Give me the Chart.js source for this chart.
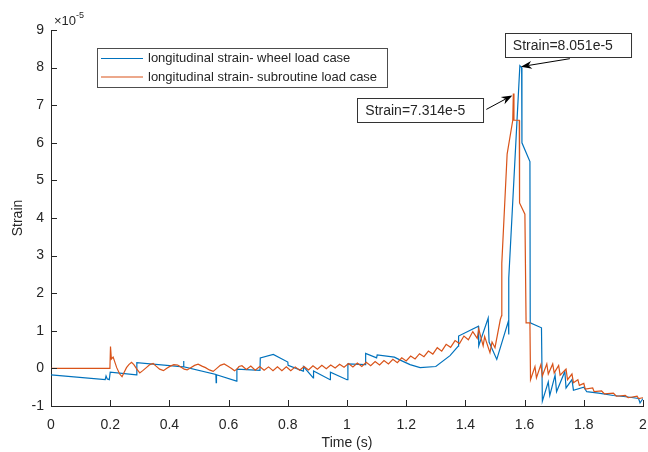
<!DOCTYPE html>
<html>
<head>
<meta charset="utf-8">
<script src="https://cdn.jsdelivr.net/npm/chart.js@4.4.1/dist/chart.umd.min.js"></script>
<style>
  html, body { margin: 0; padding: 0; background: #fff; }
  #wrap { width: 648px; height: 452px; }
</style>
</head>
<body>
<div id="wrap"><canvas id="strainChart" width="648" height="452"></canvas></div>
<script>
// strain values are given in units of 1e-5 (axis exponent)
const seriesNames = ['longitudinal strain- wheel load case', 'longitudinal strain- subroutine load case'];

const wheelTime = [0, 0.183, 0.186, 0.19, 0.197, 0.2, 0.289, 0.29, 0.447, 0.448, 0.449, 0.557, 0.558, 0.559,
  0.627, 0.628, 0.706, 0.707, 0.751, 0.80, 0.801, 0.852, 0.853, 0.886, 0.887, 0.943, 0.944, 1.0, 1.003,
  1.062, 1.063, 1.10, 1.102, 1.16, 1.18, 1.213, 1.247, 1.30, 1.348, 1.376, 1.377, 1.444, 1.445, 1.477,
  1.48, 1.506, 1.545, 1.546, 1.547, 1.584, 1.59, 1.591, 1.618, 1.619, 1.657, 1.66, 1.68, 1.685, 1.703,
  1.708, 1.736, 1.74, 1.76, 1.765, 1.80, 1.81, 1.85, 1.90, 1.95, 1.985, 1.99, 2.0];
const wheelStrain = [-0.17, -0.30, -0.20, -0.28, -0.30, -0.10, -0.17, 0.15, 0.04, 0.20, 0.04, -0.16, -0.38, -0.17,
  -0.34, -0.02, -0.05, 0.28, 0.37, 0.17, 0.08, -0.07, 0.05, -0.25, -0.07, -0.30, -0.10, -0.30, 0.12,
  0.10, 0.40, 0.28, 0.36, 0.30, 0.22, 0.10, 0.02, 0.05, 0.34, 0.59, 0.86, 1.12, 0.60, 1.34,
  0.70, 0.24, 1.25, 0.90, 2.40, 8.051, 8.0, 6.0, 5.5, 1.21, 1.08, -0.87, -0.36, -0.72, -0.18,
  -0.62, -0.08, -0.52, -0.30, -0.58, -0.50, -0.62, -0.66, -0.72, -0.76, -0.80, -0.92, -0.80];

const subTime = [0, 0.199, 0.201, 0.204, 0.21, 0.222, 0.232, 0.24, 0.246, 0.255, 0.263, 0.272, 0.28, 0.29,
  0.30, 0.31, 0.322, 0.334, 0.345, 0.355, 0.367, 0.38, 0.39, 0.403, 0.415, 0.428, 0.44, 0.45, 0.46,
  0.472, 0.485, 0.497, 0.51, 0.522, 0.535, 0.548, 0.56, 0.572, 0.585, 0.598, 0.61, 0.62, 0.628, 0.635,
  0.645, 0.66, 0.675, 0.69, 0.705, 0.72, 0.735, 0.75, 0.765, 0.78, 0.795, 0.81, 0.825, 0.84, 0.855,
  0.87, 0.885, 0.90, 0.915, 0.93, 0.945, 0.96, 0.975, 0.99, 1.005, 1.02, 1.035, 1.05, 1.065, 1.08,
  1.095, 1.11, 1.125, 1.14, 1.155, 1.17, 1.185, 1.20, 1.215, 1.23, 1.245, 1.26, 1.275, 1.29, 1.305,
  1.32, 1.335, 1.35, 1.365, 1.38, 1.395, 1.41, 1.425, 1.44, 1.445, 1.46, 1.465, 1.483, 1.49, 1.50,
  1.518, 1.522, 1.523, 1.541, 1.56, 1.562, 1.564, 1.582, 1.583, 1.601, 1.605, 1.618, 1.62, 1.635,
  1.64, 1.655, 1.66, 1.675, 1.68, 1.695, 1.70, 1.715, 1.72, 1.74, 1.745, 1.76, 1.765, 1.78, 1.785,
  1.80, 1.805, 1.83, 1.835, 1.86, 1.87, 1.90, 1.91, 1.94, 1.95, 1.98, 1.985, 2.0];
const subStrain = [0, 0, 0.58, 0.25, 0.30, 0.02, -0.15, -0.22, -0.12, 0.02, 0.10, 0.16, 0.10, -0.02,
  -0.12, -0.06, 0.02, 0.10, 0.13, 0.06, -0.02, -0.06, 0.0, 0.06, 0.10, 0.09, 0.03, -0.02, -0.04,
  0.02, 0.08, 0.11, 0.06, 0.02, -0.04, -0.08, 0.0, 0.08, 0.12, 0.06, 0.0, -0.06, -0.02, 0.05,
  0.07, -0.03, 0.06, -0.05, 0.05, -0.05, 0.04, -0.06, 0.04, -0.06, 0.04, -0.06, 0.04, -0.05, 0.05,
  -0.04, 0.07, -0.02, 0.08, -0.01, 0.09, 0.01, 0.11, 0.03, 0.13, 0.04, 0.14, 0.05, 0.16, 0.07,
  0.18, 0.09, 0.21, 0.12, 0.24, 0.15, 0.28, 0.20, 0.33, 0.25, 0.39, 0.31, 0.46, 0.38, 0.55,
  0.46, 0.64, 0.56, 0.74, 0.66, 0.86, 0.76, 0.98, 0.80, 1.05, 0.60, 0.85, 0.42, 0.70, 0.55,
  1.30, 1.40, 2.80, 5.70, 6.60, 7.314, 6.60, 6.60, 4.40, 4.10, 1.21, 1.21, -0.30, 0.05,
  -0.25, 0.10, -0.20, 0.12, -0.15, 0.12, -0.12, 0.08, -0.18, -0.02, -0.30, -0.15, -0.38, -0.30, -0.45,
  -0.40, -0.55, -0.52, -0.62, -0.60, -0.68, -0.66, -0.74, -0.72, -0.78, -0.74, -0.80, -0.78];

const xTicks = [0, 0.2, 0.4, 0.6, 0.8, 1, 1.2, 1.4, 1.6, 1.8, 2];
const yTicks = [-1, 0, 1, 2, 3, 4, 5, 6, 7, 8, 9];

const blue = '#0072BD';
const orange = '#D95319';
const ink = '#262626';
const fontFam = "'Liberation Sans', Arial, Helvetica, sans-serif";
Chart.defaults.font.family = fontFam;

const toXY = (ts, vs) => ts.map((t, i) => ({ x: t, y: vs[i] }));

function arrow(ctx, x1, y1, x2, y2) {
  const ang = Math.atan2(y2 - y1, x2 - x1);
  const len = 11, half = 4;
  ctx.strokeStyle = '#000';
  ctx.fillStyle = '#000';
  ctx.lineWidth = 1;
  ctx.beginPath();
  ctx.moveTo(x1, y1);
  ctx.lineTo(x2 - Math.cos(ang) * len * 0.7, y2 - Math.sin(ang) * len * 0.7);
  ctx.stroke();
  ctx.beginPath();
  ctx.moveTo(x2, y2);
  ctx.lineTo(x2 - Math.cos(ang) * len - Math.sin(ang) * half, y2 - Math.sin(ang) * len + Math.cos(ang) * half);
  ctx.lineTo(x2 - Math.cos(ang) * len * 0.7, y2 - Math.sin(ang) * len * 0.7);
  ctx.lineTo(x2 - Math.cos(ang) * len + Math.sin(ang) * half, y2 - Math.sin(ang) * len - Math.cos(ang) * half);
  ctx.closePath();
  ctx.fill();
}

function tipBox(ctx, text, left, top) {
  ctx.font = '14px ' + fontFam;
  const w = ctx.measureText(text).width + 26;
  const h = 24;
  ctx.fillStyle = '#fff';
  ctx.fillRect(left, top, w, h);
  ctx.strokeStyle = '#333';
  ctx.lineWidth = 1;
  ctx.strokeRect(Math.round(left) + 0.5, Math.round(top) + 0.5, w, h);
  ctx.fillStyle = ink;
  ctx.textBaseline = 'middle';
  ctx.textAlign = 'left';
  ctx.fillText(text, left + 8, top + h / 2 + 1);
  return w;
}

const matlabDecor = {
  id: 'matlabDecor',
  afterDraw(chart) {
    const { ctx, chartArea: a, scales: { x, y } } = chart;
    ctx.save();

    // inward tick marks
    ctx.strokeStyle = ink;
    ctx.lineWidth = 1;
    ctx.beginPath();
    xTicks.forEach(v => {
      const px = Math.round(x.getPixelForValue(v)) + 0.5;
      ctx.moveTo(px, a.bottom);
      ctx.lineTo(px, a.bottom - 6);
    });
    yTicks.forEach(v => {
      const py = Math.round(y.getPixelForValue(v)) + 0.5;
      ctx.moveTo(a.left, py);
      ctx.lineTo(a.left + 6, py);
    });
    ctx.stroke();

    // axis exponent
    ctx.fillStyle = ink;
    ctx.textBaseline = 'alphabetic';
    ctx.textAlign = 'left';
    ctx.font = '13px ' + fontFam;
    ctx.fillText('\u00d710', a.left + 3, a.top - 5);
    const w10 = ctx.measureText('\u00d710').width;
    ctx.font = '9px ' + fontFam;
    ctx.fillText('-5', a.left + 3 + w10, a.top - 12);

    // legend box
    const lx = a.left + 46, ly = a.top + 18, lw = 290, lh = 39;
    ctx.fillStyle = '#fff';
    ctx.fillRect(lx, ly, lw, lh);
    ctx.strokeStyle = '#4d4d4d';
    ctx.strokeRect(lx + 0.5, ly + 0.5, lw, lh);
    ctx.font = '13px ' + fontFam;
    ctx.textBaseline = 'middle';
    [blue, orange].forEach((c, i) => {
      const yy = ly + 10.5 + i * 18.5;
      ctx.strokeStyle = c;
      ctx.lineWidth = 1.2;
      ctx.beginPath();
      ctx.moveTo(lx + 4, yy);
      ctx.lineTo(lx + 46, yy);
      ctx.stroke();
      ctx.fillStyle = ink;
      ctx.fillText(seriesNames[i], lx + 51, yy);
    });

    // data tips at the maxima of each series
    const iw = wheelStrain.indexOf(Math.max(...wheelStrain));
    const isub = subStrain.indexOf(Math.max(...subStrain));
    const p1x = x.getPixelForValue(wheelTime[iw]), p1y = y.getPixelForValue(wheelStrain[iw]);
    const p2x = x.getPixelForValue(subTime[isub]), p2y = y.getPixelForValue(subStrain[isub]);

    tipBox(ctx, 'Strain=' + wheelStrain[iw].toFixed(3) + 'e-5', p1x - 15, p1y - 33);
    arrow(ctx, p1x + 50, p1y - 7, p1x + 1, p1y + 1);

    ctx.font = '14px ' + fontFam;
    const t2 = 'Strain=' + subStrain[isub].toFixed(3) + 'e-5';
    const w2 = ctx.measureText(t2).width + 26;
    tipBox(ctx, t2, p2x - 30 - w2, p2y + 5);
    arrow(ctx, p2x - 27, p2y + 16, p2x - 1, p2y + 2);

    ctx.restore();
  }
};

new Chart(document.getElementById('strainChart'), {
  type: 'scatter',
  data: {
    datasets: [
      { label: seriesNames[0], data: toXY(wheelTime, wheelStrain), showLine: true, borderColor: blue,
        backgroundColor: blue, borderWidth: 1.2, pointRadius: 0, tension: 0, order: 2 },
      { label: seriesNames[1], data: toXY(subTime, subStrain), showLine: true, borderColor: orange,
        backgroundColor: orange, borderWidth: 1.2, pointRadius: 0, tension: 0, order: 1 }
    ]
  },
  options: {
    responsive: false,
    animation: false,
    events: [],
    layout: { padding: { top: 30, right: 5, left: 0, bottom: 0 } },
    plugins: { legend: { display: false }, tooltip: { enabled: false } },
    scales: {
      x: {
        type: 'linear', min: 0, max: 2,
        afterBuildTicks: s => { s.ticks = xTicks.map(v => ({ value: v })); },
        afterFit: s => { s.height = 46; s.paddingLeft = 0; s.paddingRight = 0; },
        ticks: { color: ink, font: { size: 14 }, padding: 11, maxRotation: 0,
          callback: v => String(Number(v.toFixed(1))) },
        grid: { display: true, drawOnChartArea: false, drawTicks: false },
        border: { display: true, color: ink, width: 1 },
        title: { display: true, text: 'Time (s)', color: ink, font: { size: 14 }, padding: { top: 0, bottom: 0 } }
      },
      y: {
        type: 'linear', min: -1, max: 9,
        afterBuildTicks: s => { s.ticks = yTicks.map(v => ({ value: v })); },
        afterFit: s => { s.width = 51; },
        ticks: { color: ink, font: { size: 14 }, padding: 7, callback: v => String(v) },
        grid: { display: true, drawOnChartArea: false, drawTicks: false },
        border: { display: true, color: ink, width: 1 },
        title: { display: true, text: 'Strain', color: ink, font: { size: 14 }, padding: { top: 10, bottom: 0 } }
      }
    }
  },
  plugins: [matlabDecor]
});
</script>
</body>
</html>
